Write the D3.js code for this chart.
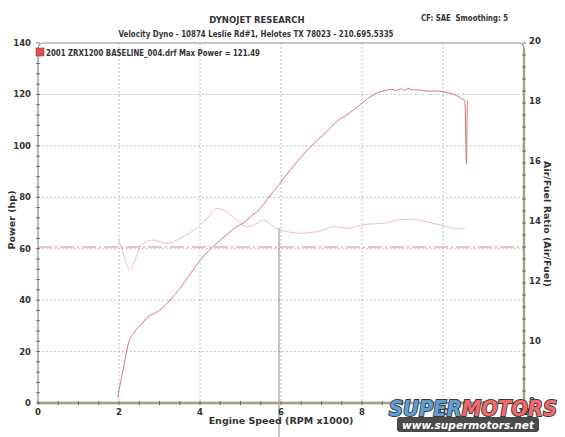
<!DOCTYPE html>
<html>
<head>
<meta charset="utf-8">
<script src="https://cdn.jsdelivr.net/npm/d3@7"></script>
<style>
  body { margin: 0; background: #fff; }
  svg { display: block; font-family: "DejaVu Sans", Verdana, sans-serif; }
  .lbl { font-weight: bold; fill: #333; }
</style>
</head>
<body>
<svg width="565" height="437"></svg>
<script>
// power run (hp vs rpm x1000)
var powerRpm = [1.97, 2.0, 2.08, 2.15, 2.23, 2.35, 2.52, 2.68, 3.0, 3.26, 3.5, 3.75, 4.0, 4.37, 4.66, 4.9, 5.07, 5.25, 5.48, 5.65, 5.93, 6.3, 6.72, 7.13, 7.38, 7.62, 7.95, 8.15, 8.44, 8.6, 8.73, 8.85, 8.95, 9.05, 9.14, 9.25, 9.43, 9.68, 9.85, 10.0, 10.2, 10.34, 10.45, 10.54, 10.58, 10.6, 10.62];
var powerHp = [2, 5, 11, 17, 23, 27, 30, 33, 36, 40, 44.5, 50, 55.5, 61.5, 65.5, 68.5, 70, 72.5, 75.5, 79, 84.5, 92, 99.5, 105.5, 109.5, 112, 116, 118.5, 121, 121.6, 122, 121.5, 122.2, 121.6, 122.3, 121.8, 121.7, 121.2, 121.4, 121, 120.4, 119.5, 118.5, 117.5, 93, 117, 118];

// air/fuel ratio run
var afrRpm = [1.98, 2.1, 2.2, 2.27, 2.4, 2.56, 2.85, 3.18, 3.51, 3.96, 4.2, 4.41, 4.66, 4.95, 5.15, 5.35, 5.56, 5.89, 6.2, 6.47, 6.96, 7.29, 7.62, 8.12, 8.53, 8.86, 9.23, 9.6, 10.0, 10.42, 10.54];
var afrVal = [13.5, 13.0, 12.6, 12.43, 12.8, 13.27, 13.43, 13.32, 13.49, 13.88, 14.2, 14.49, 14.38, 14.04, 13.88, 13.95, 14.1, 13.82, 13.7, 13.66, 13.73, 13.88, 13.82, 13.96, 13.99, 14.1, 14.13, 14.04, 13.91, 13.8, 13.82];

var afrTarget = 13.2;
var xTicks = [0, 2, 4, 6, 8, 10, 12];
var yTicks = [0, 20, 40, 60, 80, 100, 120, 140];
var rTicks = [8, 10, 12, 14, 16, 18, 20];

var title = "DYNOJET RESEARCH";
var subtitle = "Velocity Dyno - 10874 Leslie Rd#1, Helotes TX 78023 - 210.695.5335";
var cfText = "CF: SAE  Smoothing: 5";
var legendText = "2001 ZRX1200 BASELINE_004.drf Max Power = 121.49";

var svg = d3.select("svg");
var pL = 38, pR = 524, pT = 43, pB = 403;

var x = d3.scaleLinear().domain([0, 12]).range([pL, pR]);
var y = d3.scaleLinear().domain([0, 140]).range([pB, pT]);
var yr = d3.scaleLinear().domain([8, 20]).range([pB, pT]);

// grid
var grid = svg.append("g").attr("stroke", "#b0b0b0").attr("stroke-dasharray", "1.5,2.5").attr("stroke-width", 1);
grid.selectAll(".gx").data(xTicks.slice(1, -1)).enter().append("line")
  .attr("x1", function (d) { return x(d); }).attr("x2", function (d) { return x(d); })
  .attr("y1", pT).attr("y2", pB);
grid.selectAll(".gy").data(yTicks.slice(1, -1)).enter().append("line")
  .attr("x1", pL).attr("x2", pR)
  .attr("y1", function (d) { return y(d); }).attr("y2", function (d) { return y(d); });

// scanner crease near 6k
svg.append("line").attr("x1", 279).attr("x2", 279).attr("y1", 228).attr("y2", 437)
  .attr("stroke", "#8a8a8a").attr("stroke-width", 1);

// target AFR line
svg.append("line").attr("x1", pL).attr("x2", pR)
  .attr("y1", yr(afrTarget)).attr("y2", yr(afrTarget))
  .attr("stroke", "#d88a8a").attr("stroke-width", 1).attr("stroke-dasharray", "14,3,2,3");

// frame with rounded top corners
var r = 6;
svg.append("path")
  .attr("d", "M" + pL + "," + pB + "V" + (pT + r) + "Q" + pL + "," + pT + " " + (pL + r) + "," + pT +
    "H" + (pR - r) + "Q" + pR + "," + pT + " " + pR + "," + (pT + r) + "V" + pB)
  .attr("fill", "none").attr("stroke", "#8c8c8c").attr("stroke-width", 1.2);
svg.append("line").attr("x1", pR).attr("x2", pR).attr("y1", pT + r).attr("y2", pB)
  .attr("stroke", "#c8bfa8").attr("stroke-width", 2.5);
svg.append("line").attr("x1", pR).attr("x2", pR).attr("y1", pT + r).attr("y2", pB)
  .attr("stroke", "#6e6e6e").attr("stroke-width", 0.8);
svg.append("line").attr("x1", pL).attr("x2", pR).attr("y1", pB).attr("y2", pB)
  .attr("stroke", "#c8bfa8").attr("stroke-width", 3);
svg.append("line").attr("x1", pL).attr("x2", pR).attr("y1", pB).attr("y2", pB)
  .attr("stroke", "#6e6e6e").attr("stroke-width", 0.8);

// minor ticks
var ticks = svg.append("g").attr("stroke", "#555").attr("stroke-width", 0.8);
ticks.selectAll(".ty").data(d3.range(0, 141, 4)).enter().append("line")
  .attr("x1", pL - 2).attr("x2", pL + 2)
  .attr("y1", function (d) { return y(d); }).attr("y2", function (d) { return y(d); });
ticks.selectAll(".tr").data(d3.range(8, 20.01, 0.4)).enter().append("line")
  .attr("x1", pR - 2).attr("x2", pR + 2)
  .attr("y1", function (d) { return yr(d); }).attr("y2", function (d) { return yr(d); });
ticks.selectAll(".tx").data(d3.range(0, 12.01, 0.5)).enter().append("line")
  .attr("x1", function (d) { return x(d); }).attr("x2", function (d) { return x(d); })
  .attr("y1", pB - 2).attr("y2", pB + 2);

// curves
svg.append("path").datum(d3.zip(afrRpm, afrVal))
  .attr("fill", "none").attr("stroke", "#ecc0c0").attr("stroke-width", 1)
  .attr("d", d3.line().x(function (d) { return x(d[0]); }).y(function (d) { return yr(d[1]); }).curve(d3.curveMonotoneX));

svg.append("path").datum(d3.zip(powerRpm, powerHp))
  .attr("fill", "none").attr("stroke", "#d06a68").attr("stroke-width", 0.9)
  .attr("d", d3.line().x(function (d) { return x(d[0]); }).y(function (d) { return y(d[1]); }).curve(d3.curveMonotoneX));

// tick labels
var fs = 8.5;
svg.append("g").selectAll("text").data(yTicks).enter().append("text").attr("class", "lbl")
  .attr("x", pL - 7).attr("y", function (d) { return y(d) + 3; })
  .attr("text-anchor", "end").attr("font-size", fs).text(function (d) { return d; });
svg.append("g").selectAll("text").data(rTicks).enter().append("text").attr("class", "lbl")
  .attr("x", pR + 5).attr("y", function (d) { return yr(d) + 1; })
  .attr("text-anchor", "start").attr("font-size", fs).text(function (d) { return d; });
svg.append("g").selectAll("text").data(xTicks).enter().append("text").attr("class", "lbl")
  .attr("x", function (d) { return x(d); }).attr("y", pB + 12)
  .attr("text-anchor", "middle").attr("font-size", fs).text(function (d) { return d; });

// axis titles
svg.append("text").attr("class", "lbl").attr("font-size", 9.5).attr("text-anchor", "middle")
  .attr("transform", "translate(15,220) rotate(-90)").text("Power (hp)");
svg.append("text").attr("class", "lbl").attr("font-size", 9.5).attr("text-anchor", "middle")
  .attr("transform", "translate(544,224) rotate(90)").text("Air/Fuel Ratio (Air/Fuel)");
svg.append("text").attr("class", "lbl").attr("font-size", 9.5).attr("text-anchor", "middle")
  .attr("x", 281).attr("y", 424).text("Engine Speed (RPM x1000)");

// header
svg.append("text").attr("class", "lbl").attr("font-size", 8.5).attr("text-anchor", "middle")
  .attr("x", 257).attr("y", 23).text(title);
svg.append("text").attr("class", "lbl").attr("font-size", 8.5).attr("text-anchor", "middle")
  .attr("x", 256).attr("y", 37).attr("textLength", 275).attr("lengthAdjust", "spacingAndGlyphs").text(subtitle);
svg.append("text").attr("class", "lbl").attr("font-size", 8.5).attr("text-anchor", "end")
  .attr("x", 508).attr("y", 21).attr("textLength", 87).attr("lengthAdjust", "spacingAndGlyphs")
  .attr("xml:space", "preserve").text(cfText);

// legend
svg.append("rect").attr("x", 36).attr("y", 48).attr("width", 8).attr("height", 8)
  .attr("fill", "#d9534f").attr("stroke", "#a33").attr("stroke-width", 0.6);
svg.append("text").attr("class", "lbl").attr("font-size", 8.5)
  .attr("x", 46).attr("y", 56).attr("textLength", 214).attr("lengthAdjust", "spacingAndGlyphs").text(legendText);

// watermark
var wm = svg.append("g");
wm.append("rect").attr("x", 397).attr("y", 417).attr("width", 142).attr("height", 15).attr("rx", 3).attr("fill", "#4a4a4a");
wm.append("text").attr("x", 468).attr("y", 429).attr("text-anchor", "middle")
  .attr("font-size", 11).attr("font-weight", "bold").attr("font-style", "italic")
  .attr("fill", "#fff").attr("textLength", 132).attr("lengthAdjust", "spacingAndGlyphs").text("www.supermotors.net");
var logo = wm.append("text").attr("x", 389).attr("y", 416).attr("font-size", 22)
  .attr("font-weight", "bold").attr("font-style", "italic")
  .attr("stroke", "#3a3a3a").attr("stroke-width", 2).attr("paint-order", "stroke")
  .attr("textLength", 168).attr("lengthAdjust", "spacingAndGlyphs");
logo.append("tspan").attr("fill", "#5e9fd6").text("SUPER");
logo.append("tspan").attr("fill", "#f26a6a").text("MOTORS");
</script>
</body>
</html>
